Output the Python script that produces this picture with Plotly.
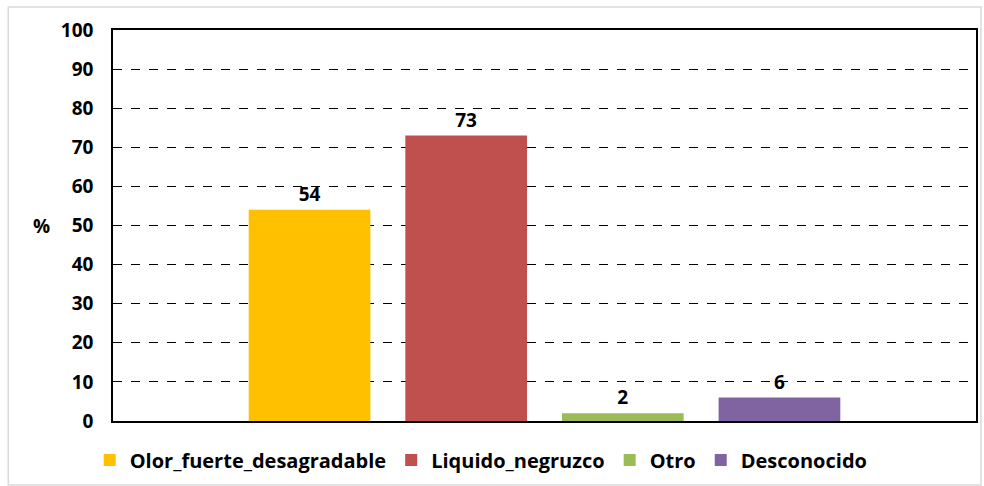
import plotly.graph_objects as go

# Survey answers (percent of respondents)
series_names = ["Olor_fuerte_desagradable", "Liquido_negruzco", "Otro", "Desconocido"]
series_values = [54, 73, 2, 6]
series_colors = ["#FFC000", "#C0504D", "#9BBB59", "#8064A2"]
category = [""]
y_ticks = [0, 10, 20, 30, 40, 50, 60, 70, 80, 90, 100]

FONT = "Open Sans, Calibri, Arial, sans-serif"
BOLD = dict(family=FONT, size=19, color="black", weight="bold")

fig = go.Figure()
for name, val, col in zip(series_names, series_values, series_colors):
    fig.add_trace(go.Bar(
        x=category, y=[val], name=name,
        marker=dict(color=col, line=dict(width=0)),
        text=[str(val)], textposition="outside",
        textfont=BOLD,
        cliponaxis=False,
    ))

fig.update_layout(
    width=984, height=486,
    margin=dict(l=113, r=6, t=30, b=65),
    paper_bgcolor="white", plot_bgcolor="white",
    barmode="group", bargap=0.274, bargroupgap=0.223,
    font=BOLD,
    showlegend=True,
    legend=dict(
        orientation="h", x=-0.027, xanchor="left", y=-0.05, yanchor="top",
        font=dict(family=FONT, size=20, color="black", weight="bold"),
        itemwidth=30, traceorder="normal",
    ),
)

fig.update_xaxes(
    showticklabels=False, showgrid=False, zeroline=False,
    showline=True, linecolor="black", linewidth=1.5, mirror=True,
    ticks="",
)
fig.update_yaxes(
    range=[0, 100], tickvals=y_ticks,
    tickfont=BOLD,
    ticklabelstandoff=14,
    showgrid=True, gridcolor="black", griddash="dash", gridwidth=1,
    zeroline=False, showline=True, linecolor="black", linewidth=1.5, mirror=True,
    ticks="",
)

# axis label
fig.add_annotation(
    text="%", xref="paper", yref="paper", x=-0.095, y=0.5,
    showarrow=False, font=BOLD,
)

# light outer frame of the chart area
fig.add_shape(
    type="rect", xref="paper", yref="paper",
    x0=(8 - 113) / 865, x1=(983 - 113) / 865,
    y0=(421 - 485) / 391, y1=(421 - 7) / 391,
    line=dict(color="#D9D9D9", width=1.5), layer="below",
)

fig.write_html("out.html")
